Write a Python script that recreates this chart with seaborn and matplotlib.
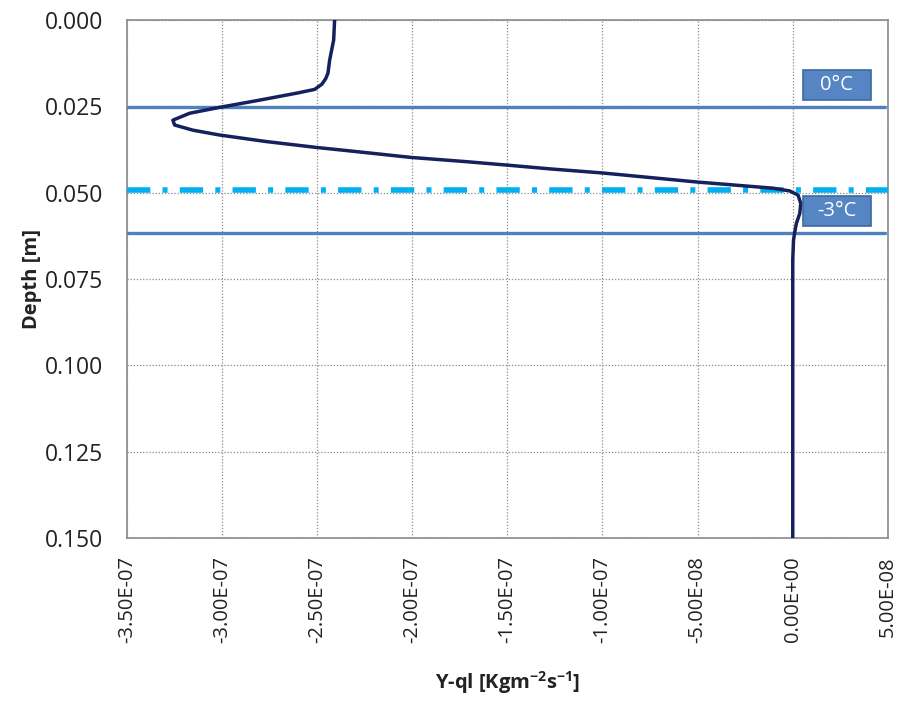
import numpy as np
import pandas as pd
import matplotlib
matplotlib.use('Agg')
import matplotlib.pyplot as plt
from matplotlib.patches import Rectangle
from matplotlib.ticker import FuncFormatter
import seaborn as sns

## profile (flux in 1e-7 Kg m-2 s-1, depth in m)
flux_e7 = [-2.408, -2.413, -2.434, -2.443, -2.455, -2.475, -2.513, -2.609, -2.802, -3.013,
           -3.170, -3.258, -3.249, -3.153, -3.013, -2.767, -2.504, -2.329, -2.005,
           -1.720, -1.505, -1.278, -0.999, -0.506, -0.104, -0.016, 0.028, 0.042, 0.037,
           0.019, 0.011, 0.004, 0.0, 0.0]
depth = [0.0, 0.0058, 0.0116, 0.0154, 0.0170, 0.0186, 0.0201, 0.0212, 0.0232, 0.0253,
         0.0270, 0.0290, 0.0304, 0.0319, 0.0333, 0.0352, 0.0369, 0.0379, 0.0398,
         0.0410, 0.0420, 0.0431, 0.0443, 0.0469, 0.0487, 0.0495, 0.0507, 0.0531, 0.0560,
         0.0589, 0.0613, 0.0637, 0.0695, 0.15]

iso_depths = [0.0252, 0.0617]      # 0 C and -3 C isotherms
iso_labels = ['0°C', '-3°C']
front_depth = 0.0492               # dash-dot line

x_ticks = [-3.5e-7, -3.0e-7, -2.5e-7, -2.0e-7, -1.5e-7, -1.0e-7, -5e-8, 0.0, 5e-8]
y_ticks = [0.0, 0.025, 0.05, 0.075, 0.1, 0.125, 0.15]

df = pd.DataFrame({'flux': np.array(flux_e7) * 1e-7, 'depth': depth})

sns.set_style('white')
plt.rcParams['font.family'] = ['Open Sans', 'DejaVu Sans']

fig = plt.figure(figsize=(9.06, 7.02), dpi=100)
ax = fig.add_axes([0.140, 0.2336, 0.840, 0.7379])

for d in iso_depths:
    ax.axhline(d, xmin=0, xmax=0.996, color='#4F81BD', lw=2.4, zorder=3)
ax.axhline(front_depth, color='#00B0F0', lw=4.0, dashes=(4.2, 2.2, 0.9, 2.2), zorder=3)

sns.lineplot(data=df, x='flux', y='depth', sort=False, estimator=None,
             color='#14215C', lw=2.5, ax=ax, zorder=4,
             solid_joinstyle='round', solid_capstyle='round')

ax.set_xlim(-3.5e-7, 5e-8)
ax.set_ylim(0.15, 0.0)
ax.set_xticks(x_ticks)
ax.set_yticks(y_ticks)
ax.xaxis.set_major_formatter(FuncFormatter(lambda v, p: '{:.2E}'.format(0.0 if abs(v) < 1e-12 else v)))
ax.yaxis.set_major_formatter(FuncFormatter(lambda v, p: '{:.3f}'.format(v)))
ax.tick_params(axis='x', labelrotation=90, labelsize=14.5, pad=6)
ax.tick_params(axis='y', labelsize=16.5, pad=10)
ax.tick_params(axis='both', direction='out', length=7, width=1, color='#888888',
               labelcolor='#222222')
ax.grid(True, color='#8a8a8a', ls=(0, (1, 1.5)), lw=0.9)
for s in ax.spines.values():
    s.set_color('#8a8a8a')
    s.set_linewidth(1.2)

ax.set_xlabel('Y-ql [Kgm$^{\\mathregular{-2}}$s$^{\\mathregular{-1}}$]', fontsize=14.5,
              fontweight='bold', color='#222222', labelpad=19)
ax.set_ylabel('Depth [m]', fontsize=14.5, fontweight='bold', color='#222222', labelpad=2)

## label boxes for the isotherms
box_tops = [0.0145, 0.0510]
for top, lab in zip(box_tops, iso_labels):
    ax.add_patch(Rectangle((0.053e-7, top), 0.357e-7, 0.0087, facecolor='#5585C3',
                           edgecolor='#3C6A9E', lw=1.2, zorder=5))
    ax.text(0.2315e-7, top + 0.00435, lab, ha='center', va='center', color='white',
            fontsize=14.5, zorder=6)

fig.savefig('out.png', dpi=100)
